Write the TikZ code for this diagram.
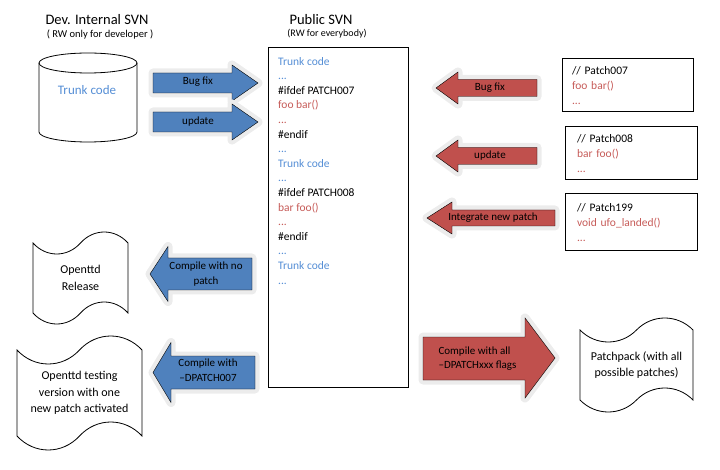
\documentclass[tikz,border=0pt]{standalone}
\usepackage{fontspec}
\setmainfont{Carlito}
\usetikzlibrary{shapes.symbols}
\definecolor{offblue}{HTML}{4F81BD}
\definecolor{offred}{HTML}{C0504D}
\definecolor{codeblue}{HTML}{558ED5}
\definecolor{codered}{HTML}{C65B58}
\definecolor{glowgray}{HTML}{ECECEC}

\begin{document}
\begin{tikzpicture}[
  x=1pt, y=-1pt,
  title/.style={font=\fontsize{14.5}{16}\selectfont},
  sub/.style={font=\fontsize{10.5}{12}\selectfont},
  code/.style={align=left, inner sep=0pt, font=\fontsize{11.5}{14.6}\selectfont},
  patch/.style={draw, line width=1pt, align=left, inner ysep=0pt, font=\fontsize{11.5}{15}\selectfont},
  blkblue/.style={fill=offblue, preaction={draw=glowgray, line width=9pt, line join=round}},
  blkred/.style={fill=offred, preaction={draw=glowgray, line width=9pt, line join=round}},
  lbl/.style={align=center, font=\fontsize{11}{15}\selectfont},
  doc/.style={tape, draw, line width=0.8pt, align=center, font=\fontsize{12}{16.5}\selectfont}
]
\useasboundingbox (0,0) rectangle (720,470);

% developer repository
\node[title] (devttl) at (97,20) {Dev. Internal SVN};
\node[sub] (devsub) at (100,35) {( RW only for developer )};
\draw[line width=0.8pt] (88,63) ellipse[x radius=49, y radius=10];
\draw[line width=0.8pt] (39,63) -- (39,132) arc[start angle=180, end angle=0, x radius=49, y radius=10] -- (137,63);
\node[font=\fontsize{13}{15}\selectfont, text=codeblue] (devtrunk) at (87,90) {Trunk code};

% public repository
\node[title] (pubttl) at (321,20) {Public SVN};
\node[sub, font=\fontsize{10}{12}\selectfont] (pubsub) at (327,34) {(RW for everybody)};
\node[draw, line width=1pt, minimum width=140pt, minimum height=339pt] (pub) at (338,217.5) {};
\node[code, anchor=north west] (pubcode) at (278,57) {%
  \textcolor{codeblue}{Trunk code}\\ \textcolor{codeblue}{...}\\
  \#ifdef PATCH007\\ \textcolor{codered}{foo bar()}\\ \textcolor{codered}{...}\\ \#endif\\
  \textcolor{codeblue}{...}\\ \textcolor{codeblue}{Trunk code}\\ \textcolor{codeblue}{...}\\
  \#ifdef PATCH008\\ \textcolor{codered}{bar foo()}\\ \textcolor{codered}{...}\\ \#endif\\
  \textcolor{codeblue}{...}\\ \textcolor{codeblue}{Trunk code}\\ \textcolor{codeblue}{...}};

% patches
\node[patch, inner xsep=10pt, text width=111pt, minimum height=53pt] (p007) at (627.5,85.5)
  {// Patch007\\ \textcolor{codered}{foo bar()}\\ \textcolor{codered}{...}};
\node[patch, inner xsep=12pt, text width=108pt, minimum height=53pt] (p008) at (631,153.5)
  {// Patch008\\ \textcolor{codered}{bar foo()}\\ \textcolor{codered}{...}};
\node[patch, inner xsep=12pt, text width=108pt, minimum height=57pt] (p199) at (631,222.5)
  {// Patch199\\ \textcolor{codered}{void ufo\_landed()}\\ \textcolor{codered}{...}};

% builds
\node[doc, minimum width=95pt, minimum height=92pt, tape bend height=22pt] (rel) at (80.5,278) {Openttd\\Release};
\node[doc, minimum width=125pt, minimum height=114pt, tape bend height=28pt] (test) at (79.5,393)
  {Openttd testing\\version with one\\new patch activated};
\node[doc, minimum width=113pt, minimum height=94pt, tape bend height=24pt] (pack) at (636.5,365)
  {Patchpack (with all\\possible patches)};

% block arrows
\draw[blkblue] (153,73) -- (232,73) -- (232,65) -- (258,83) -- (232,101) -- (232,93) -- (153,93) -- cycle;
\node[lbl] (bfix) at (198,82) {Bug fix};
\draw[blkblue] (153,112) -- (232,112) -- (232,104) -- (258,122) -- (232,140) -- (232,132) -- (153,132) -- cycle;
\node[lbl] (bupd) at (198,122) {update};

\draw[blkred] (537,79.5) -- (458,79.5) -- (458,72) -- (436,88) -- (458,104) -- (458,96.5) -- (537,96.5) -- cycle;
\node[lbl] (rfix) at (490,88) {Bug fix};
\draw[blkred] (537,147.5) -- (458,147.5) -- (458,140) -- (436,156) -- (458,172) -- (458,164.5) -- (537,164.5) -- cycle;
\node[lbl] (rupd) at (490,156) {update};
\draw[blkred] (555,210) -- (452,210) -- (452,202) -- (427,218) -- (452,234) -- (452,226) -- (555,226) -- cycle;
\node[lbl] (rnew) at (493,218) {Integrate new patch};

\draw[blkblue] (252,258) -- (168,258) -- (168,246.5) -- (150,274) -- (168,301.5) -- (168,290) -- (252,290) -- cycle;
\node[lbl] (cnone) at (206,274.5) {Compile with no\\patch};
\draw[blkblue] (255,356) -- (171,356) -- (171,342.5) -- (153,372.5) -- (171,402.5) -- (171,389) -- (255,389) -- cycle;
\node[lbl] (cone) at (208,370.5) {Compile with\\–DPATCH007};

\draw[blkred] (423,337) -- (525,337) -- (525,318) -- (555,358) -- (525,398) -- (525,380) -- (423,380) -- cycle;
\node[lbl, align=left, anchor=west, font=\fontsize{11}{14}\selectfont] (call) at (435,358.5) {Compile with all\\–DPATCHxxx flags};
\end{tikzpicture}
\end{document}
